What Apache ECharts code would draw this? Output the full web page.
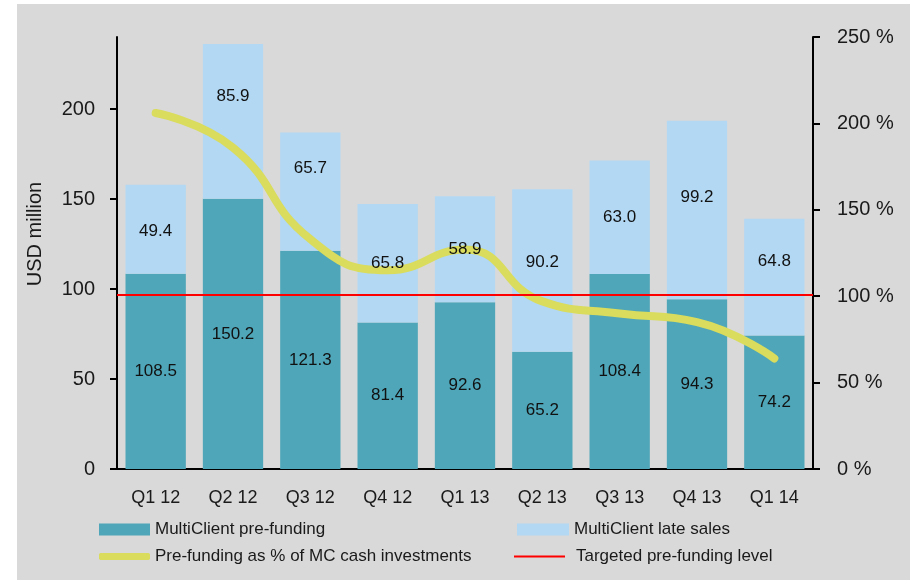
<!DOCTYPE html>
<html>
<head>
<meta charset="utf-8">
<script src="https://cdn.jsdelivr.net/npm/echarts@6/dist/echarts.min.js"></script>
<style>
html,body{margin:0;padding:0;background:#ffffff;}
#chart{width:910px;height:580px;}
</style>
</head>
<body>
<div id="chart"></div>
<script>
const categories = ['Q1 12','Q2 12','Q3 12','Q4 12','Q1 13','Q2 13','Q3 13','Q4 13','Q1 14'];
const preFunding = [108.5,150.2,121.3,81.4,92.6,65.2,108.4,94.3,74.2];
const lateSales = [49.4,85.9,65.7,65.8,58.9,90.2,63.0,99.2,64.8];
const preFundingPct = [206,186,133,115,127,97,90,85,64];
const targetLevel = 101;
const leftTicks = [0,50,100,150,200];

// label vertical shifts (style only) for late sales labels
const lateLabelShift = [2,-25,-23,0,0,-8,0,-13,-16];

const FONT = 'Liberation Sans';
const TXT = '#1a1a1a';
const chart = echarts.init(document.getElementById('chart'), null, {renderer:'canvas'});

const legendText = {fontFamily:FONT, fontSize:17, color:TXT};
const valueLabel = {show:true, position:'inside', fontFamily:FONT, fontSize:17, color:'#111',
                    formatter:(p)=>Number(p.value).toFixed(1)};

const option = {
  backgroundColor: '#ffffff',
  animation: false,
  graphic: [
    {type:'rect', left:17, top:4, z:-10, shape:{width:893, height:576}, style:{fill:'#d9d9d9'}},
    {type:'text', x:35, y:234, rotation: Math.PI/2, z:10,
     style:{text:'USD million', fill:TXT, font:'20px "Liberation Sans"', align:'center', verticalAlign:'middle'}}
  ],
  grid: {left:117, right:97, top:37, bottom:111, containLabel:false},
  legend: [
    {left:99, top:521, padding:0, itemWidth:51, itemHeight:12, textStyle:legendText,
     data:[{name:'MultiClient pre-funding', icon:'rect'}]},
    {left:517, top:521, padding:0, itemWidth:52, itemHeight:12, textStyle:legendText,
     data:[{name:'MultiClient late sales', icon:'rect'}]},
    {left:99, top:548, padding:0, itemWidth:51, itemHeight:7, textStyle:legendText,
     data:[{name:'Pre-funding as % of MC cash investments', icon:'roundRect'}]},
    {left:514, top:548, padding:0, itemWidth:51, itemHeight:2, textStyle:Object.assign({}, legendText, {padding:[0,0,0,6]}),
     data:[{name:'Targeted pre-funding level', icon:'rect'}]}
  ],
  xAxis: {
    type:'category', data:categories,
    axisLine:{show:true, lineStyle:{color:'#000', width:2}},
    axisTick:{show:false},
    axisLabel:{fontFamily:FONT, fontSize:18, color:TXT, margin:20}
  },
  yAxis: [
    {type:'value', min:0, max:240, interval:50, position:'left',
     axisLine:{show:true, lineStyle:{color:'#000', width:2}},
     axisTick:{show:true, length:7, customValues:leftTicks, lineStyle:{color:'#000', width:2}},
     axisLabel:{fontFamily:FONT, fontSize:20, color:TXT, margin:22, customValues:leftTicks},
     splitLine:{show:false}},
    {type:'value', min:0, max:250, interval:50, position:'right',
     axisLine:{show:true, lineStyle:{color:'#000', width:2}},
     axisTick:{show:true, length:7, lineStyle:{color:'#000', width:2}},
     axisLabel:{fontFamily:FONT, fontSize:20, color:TXT, margin:24, formatter:'{value} %'},
     splitLine:{show:false}}
  ],
  series: [
    {name:'MultiClient pre-funding', type:'bar', stack:'mc', barWidth:'78%', barGap:'-100%',
     itemStyle:{color:'#4ea6b8'}, label:{show:false},
     data: preFunding},
    {name:'MultiClient late sales', type:'bar', stack:'mc', barWidth:'78%', barGap:'-100%',
     itemStyle:{color:'#b2d8f3'}, label:{show:false},
     data: lateSales},
    {name:'Pre-funding as % of MC cash investments', type:'line', yAxisIndex:1, smooth:0.5,
     symbol:'none', z:5,
     lineStyle:{color:'#d9dc5c', width:8, cap:'round', join:'round'},
     itemStyle:{color:'#d9dc5c'},
     data: preFundingPct},
    {name:'Targeted pre-funding level', type:'line', yAxisIndex:1, data:[], symbol:'none',
     itemStyle:{color:'#ff0000'}, lineStyle:{color:'#ff0000', width:2},
     markLine:{silent:true, symbol:'none', label:{show:false}, z:6,
       lineStyle:{color:'#ff0000', width:2, type:'solid'},
       data:[{yAxis: targetLevel}]}},
    // transparent overlay bars carrying the value labels, drawn above the line
    {name:'lbl-pre', type:'bar', stack:'lbl', barWidth:'78%', barGap:'-100%', z:20,
     itemStyle:{color:'rgba(0,0,0,0)'}, label:valueLabel, silent:true,
     data: preFunding},
    {name:'lbl-late', type:'bar', stack:'lbl', barWidth:'78%', barGap:'-100%', z:20,
     itemStyle:{color:'rgba(0,0,0,0)'}, label:valueLabel, silent:true,
     data: lateSales.map((v,i)=>({value:v, label:{offset:[0,lateLabelShift[i]]}}))}
  ]
};
chart.setOption(option);
</script>
</body>
</html>
